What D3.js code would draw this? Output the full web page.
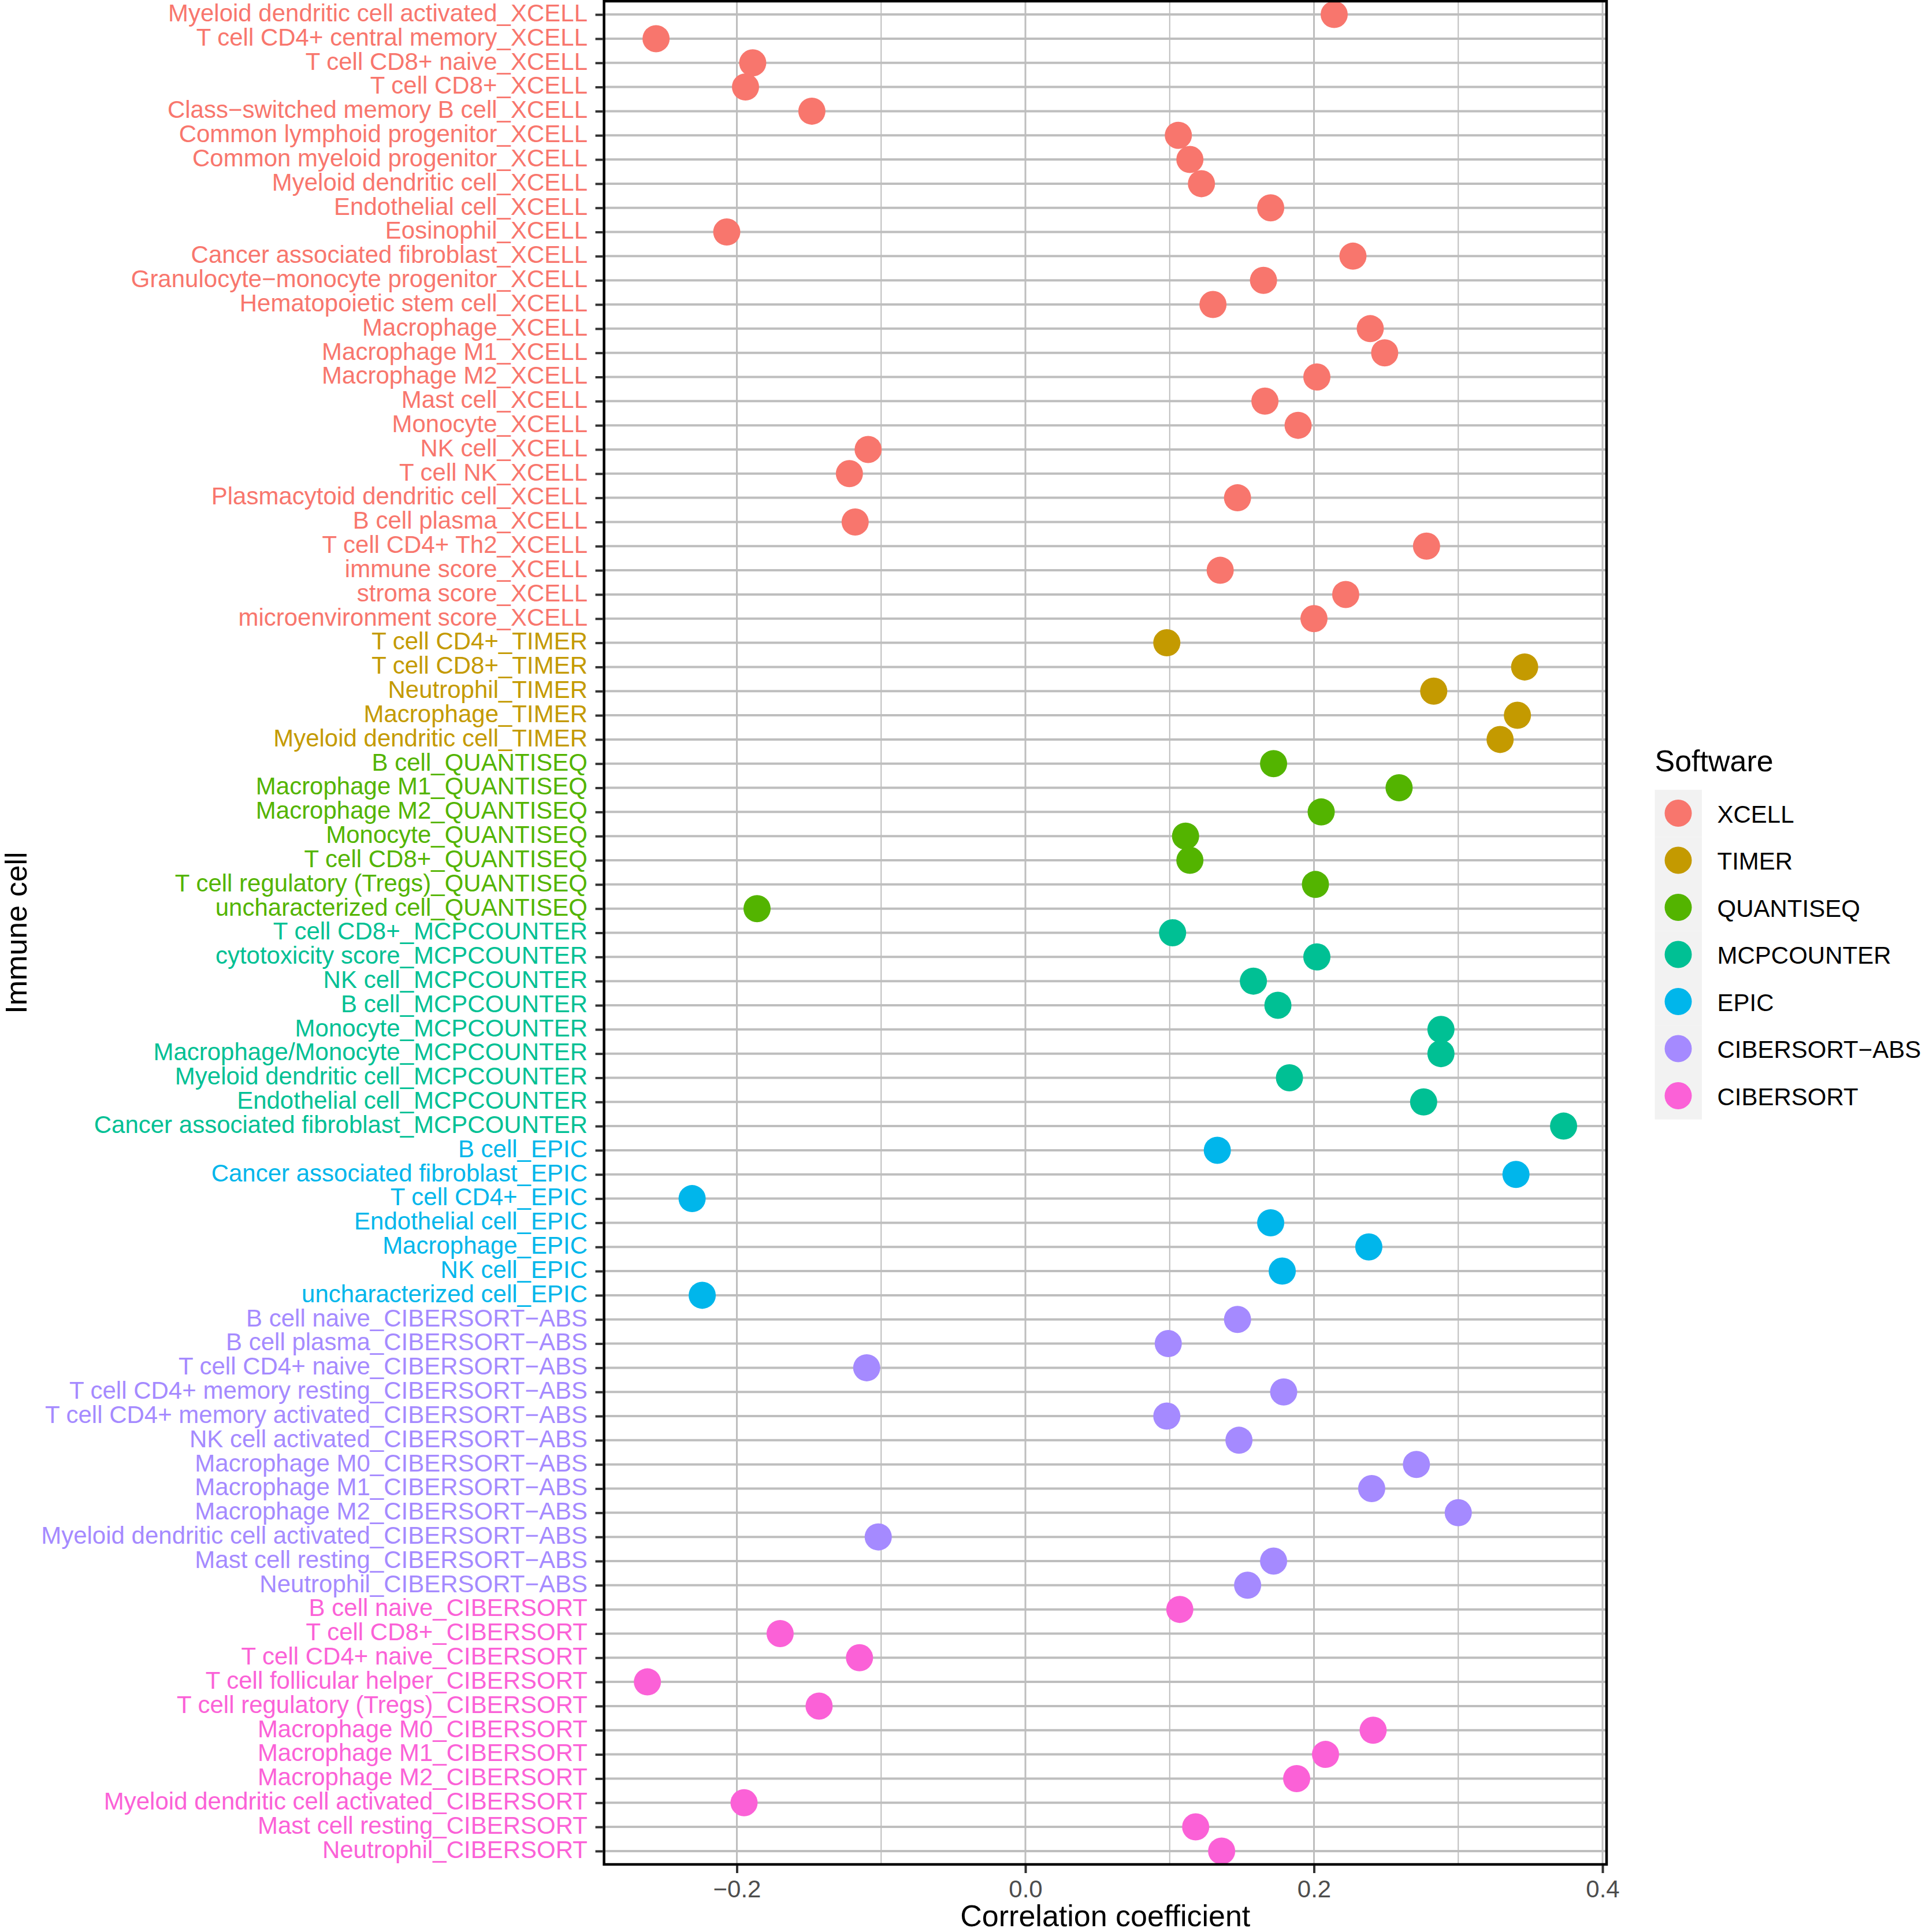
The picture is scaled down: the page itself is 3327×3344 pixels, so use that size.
<!DOCTYPE html>
<html>
<head>
<meta charset="utf-8">
<script src="https://cdn.jsdelivr.net/npm/d3@7"></script>
<style>
  body { margin: 0; background: #fff; }
  text { font-family: "Liberation Sans", Arial, Helvetica, sans-serif; }
</style>
</head>
<body>
<svg id="chart" width="3327" height="3344"></svg>
<script>
// software order for the legend and colours
var softwareLevels = ["XCELL", "TIMER", "QUANTISEQ", "MCPCOUNTER", "EPIC", "CIBERSORT−ABS", "CIBERSORT"];
var softwareColors = ["#F8766D", "#C49A00", "#53B400", "#00C094", "#00B6EB", "#A58AFF", "#FB61D7"];

// immune cell rows, top to bottom
var cells = [
  "Myeloid dendritic cell activated_XCELL", "T cell CD4+ central memory_XCELL", "T cell CD8+ naive_XCELL",
  "T cell CD8+_XCELL", "Class−switched memory B cell_XCELL", "Common lymphoid progenitor_XCELL",
  "Common myeloid progenitor_XCELL", "Myeloid dendritic cell_XCELL", "Endothelial cell_XCELL",
  "Eosinophil_XCELL", "Cancer associated fibroblast_XCELL", "Granulocyte−monocyte progenitor_XCELL",
  "Hematopoietic stem cell_XCELL", "Macrophage_XCELL", "Macrophage M1_XCELL", "Macrophage M2_XCELL",
  "Mast cell_XCELL", "Monocyte_XCELL", "NK cell_XCELL", "T cell NK_XCELL",
  "Plasmacytoid dendritic cell_XCELL", "B cell plasma_XCELL", "T cell CD4+ Th2_XCELL",
  "immune score_XCELL", "stroma score_XCELL", "microenvironment score_XCELL",
  "T cell CD4+_TIMER", "T cell CD8+_TIMER", "Neutrophil_TIMER", "Macrophage_TIMER",
  "Myeloid dendritic cell_TIMER",
  "B cell_QUANTISEQ", "Macrophage M1_QUANTISEQ", "Macrophage M2_QUANTISEQ", "Monocyte_QUANTISEQ",
  "T cell CD8+_QUANTISEQ", "T cell regulatory (Tregs)_QUANTISEQ", "uncharacterized cell_QUANTISEQ",
  "T cell CD8+_MCPCOUNTER", "cytotoxicity score_MCPCOUNTER", "NK cell_MCPCOUNTER", "B cell_MCPCOUNTER",
  "Monocyte_MCPCOUNTER", "Macrophage/Monocyte_MCPCOUNTER", "Myeloid dendritic cell_MCPCOUNTER",
  "Endothelial cell_MCPCOUNTER", "Cancer associated fibroblast_MCPCOUNTER",
  "B cell_EPIC", "Cancer associated fibroblast_EPIC", "T cell CD4+_EPIC", "Endothelial cell_EPIC",
  "Macrophage_EPIC", "NK cell_EPIC", "uncharacterized cell_EPIC",
  "B cell naive_CIBERSORT−ABS", "B cell plasma_CIBERSORT−ABS", "T cell CD4+ naive_CIBERSORT−ABS",
  "T cell CD4+ memory resting_CIBERSORT−ABS", "T cell CD4+ memory activated_CIBERSORT−ABS",
  "NK cell activated_CIBERSORT−ABS", "Macrophage M0_CIBERSORT−ABS", "Macrophage M1_CIBERSORT−ABS",
  "Macrophage M2_CIBERSORT−ABS", "Myeloid dendritic cell activated_CIBERSORT−ABS",
  "Mast cell resting_CIBERSORT−ABS", "Neutrophil_CIBERSORT−ABS",
  "B cell naive_CIBERSORT", "T cell CD8+_CIBERSORT", "T cell CD4+ naive_CIBERSORT",
  "T cell follicular helper_CIBERSORT", "T cell regulatory (Tregs)_CIBERSORT", "Macrophage M0_CIBERSORT",
  "Macrophage M1_CIBERSORT", "Macrophage M2_CIBERSORT", "Myeloid dendritic cell activated_CIBERSORT",
  "Mast cell resting_CIBERSORT", "Neutrophil_CIBERSORT"
];

// software of each row
var software = [
  "XCELL","XCELL","XCELL","XCELL","XCELL","XCELL","XCELL","XCELL","XCELL","XCELL","XCELL","XCELL","XCELL",
  "XCELL","XCELL","XCELL","XCELL","XCELL","XCELL","XCELL","XCELL","XCELL","XCELL","XCELL","XCELL","XCELL",
  "TIMER","TIMER","TIMER","TIMER","TIMER",
  "QUANTISEQ","QUANTISEQ","QUANTISEQ","QUANTISEQ","QUANTISEQ","QUANTISEQ","QUANTISEQ",
  "MCPCOUNTER","MCPCOUNTER","MCPCOUNTER","MCPCOUNTER","MCPCOUNTER","MCPCOUNTER","MCPCOUNTER","MCPCOUNTER","MCPCOUNTER",
  "EPIC","EPIC","EPIC","EPIC","EPIC","EPIC","EPIC",
  "CIBERSORT−ABS","CIBERSORT−ABS","CIBERSORT−ABS","CIBERSORT−ABS","CIBERSORT−ABS","CIBERSORT−ABS",
  "CIBERSORT−ABS","CIBERSORT−ABS","CIBERSORT−ABS","CIBERSORT−ABS","CIBERSORT−ABS","CIBERSORT−ABS",
  "CIBERSORT","CIBERSORT","CIBERSORT","CIBERSORT","CIBERSORT","CIBERSORT","CIBERSORT","CIBERSORT",
  "CIBERSORT","CIBERSORT","CIBERSORT"
];

// correlation coefficient of each row
var corr = [
  0.214, -0.256, -0.189, -0.194, -0.148, 0.106, 0.114, 0.122, 0.170, -0.207, 0.227, 0.165, 0.130,
  0.239, 0.249, 0.202, 0.166, 0.189, -0.109, -0.122, 0.147, -0.118, 0.278, 0.135, 0.222, 0.200,
  0.098, 0.346, 0.283, 0.341, 0.329,
  0.172, 0.259, 0.205, 0.111, 0.114, 0.201, -0.186,
  0.102, 0.202, 0.158, 0.175, 0.288, 0.288, 0.183, 0.276, 0.373,
  0.133, 0.340, -0.231, 0.170, 0.238, 0.178, -0.224,
  0.147, 0.099, -0.110, 0.179, 0.098, 0.148, 0.271, 0.240, 0.300, -0.102, 0.172, 0.154,
  0.107, -0.170, -0.115, -0.262, -0.143, 0.241, 0.208, 0.188, -0.195, 0.118, 0.136
];

var xTicks = [-0.2, 0.0, 0.2, 0.4];
var xMinor = [-0.1, 0.1, 0.3];

var rows = cells.map(function(c, i) {
  return { cell: c, software: software[i], value: corr[i] };
});

var svg = d3.select("#chart");

var panel = { left: 1043.6, right: 2783, top: 0, bottom: 3229 };

var x = d3.scaleLinear()
  .domain([-0.29285, 0.4036])
  .range([panel.left, panel.right]);

var y = d3.scalePoint()
  .domain(cells)
  .range([panel.top, panel.bottom])
  .padding(0.6);

var color = d3.scaleOrdinal().domain(softwareLevels).range(softwareColors);

var g = svg.append("g");

// grid lines
g.selectAll("line.minor").data(xMinor).enter().append("line")
  .attr("x1", function(d) { return x(d); }).attr("x2", function(d) { return x(d); })
  .attr("y1", panel.top).attr("y2", panel.bottom)
  .attr("stroke", "#bebebe").attr("stroke-width", 2);

g.selectAll("line.major").data(xTicks).enter().append("line")
  .attr("x1", function(d) { return x(d); }).attr("x2", function(d) { return x(d); })
  .attr("y1", panel.top).attr("y2", panel.bottom)
  .attr("stroke", "#bebebe").attr("stroke-width", 3);

g.selectAll("line.hgrid").data(cells).enter().append("line")
  .attr("x1", panel.left).attr("x2", panel.right)
  .attr("y1", function(d) { return y(d); }).attr("y2", function(d) { return y(d); })
  .attr("stroke", "#bebebe").attr("stroke-width", 4);

// points
g.selectAll("circle.pt").data(rows).enter().append("circle")
  .attr("cx", function(d) { return x(d.value); })
  .attr("cy", function(d) { return y(d.cell); })
  .attr("r", 23.5)
  .attr("fill", function(d) { return color(d.software); });

// panel border
g.append("rect")
  .attr("x", panel.left + 2).attr("y", panel.top + 2)
  .attr("width", panel.right - panel.left - 4).attr("height", panel.bottom - panel.top - 4)
  .attr("fill", "none").attr("stroke", "#000").attr("stroke-width", 4.5);

// y axis
var yAxis = svg.append("g")
  .attr("transform", "translate(" + panel.left + ",0)")
  .call(d3.axisLeft(y).tickSize(13).tickPadding(13.6));
yAxis.select(".domain").remove();
yAxis.selectAll(".tick line").attr("stroke", "#333333").attr("stroke-width", 4);
yAxis.selectAll(".tick text")
  .attr("dy", "0.27em")
  .style("font-size", "42px")
  .attr("fill", function(d, i) { return color(software[i]); });

// x axis
var xAxis = svg.append("g")
  .attr("transform", "translate(0," + panel.bottom + ")")
  .call(d3.axisBottom(x).tickValues(xTicks).tickFormat(d3.format(".1f")).tickSize(13).tickPadding(12));
xAxis.select(".domain").remove();
xAxis.selectAll(".tick line").attr("stroke", "#333333").attr("stroke-width", 4);
xAxis.selectAll(".tick text")
  .style("font-size", "42px")
  .attr("fill", "#4D4D4D");

// axis titles
svg.append("text")
  .attr("x", (panel.left + panel.right) / 2).attr("y", 3334)
  .attr("text-anchor", "middle")
  .style("font-size", "52px")
  .text("Correlation coefficient");

svg.append("text")
  .attr("transform", "translate(46," + ((panel.top + panel.bottom) / 2) + ") rotate(-90)")
  .attr("text-anchor", "middle")
  .style("font-size", "52px")
  .text("Immune cell");

// legend
var legend = svg.append("g").attr("transform", "translate(2864.5,1367)");
var keySize = 81.5;

legend.append("text")
  .attr("x", 0).attr("y", -32)
  .style("font-size", "52px")
  .text("Software");

var items = legend.selectAll("g.item").data(softwareLevels).enter().append("g")
  .attr("transform", function(d, i) { return "translate(0," + (i * keySize) + ")"; });

items.append("rect")
  .attr("width", keySize).attr("height", keySize)
  .attr("fill", "#F2F2F2");

items.append("circle")
  .attr("cx", 40.5).attr("cy", 40.5).attr("r", 23.5)
  .attr("fill", function(d) { return color(d); });

items.append("text")
  .attr("x", 108).attr("y", 40.5 + 16)
  .style("font-size", "42px")
  .text(function(d) { return d; });
</script>
</body>
</html>
